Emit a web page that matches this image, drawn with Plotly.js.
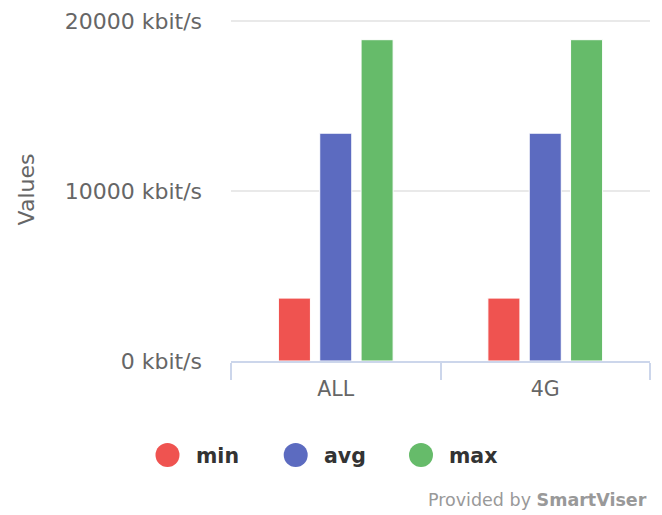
<!DOCTYPE html>
<html>
<head>
<meta charset="utf-8">
<script src="https://cdn.plot.ly/plotly-3.0.1.min.js"></script>
<style>html,body{margin:0;padding:0;background:#fff;}#chart{width:662px;height:515px;}</style>
</head>
<body>
<div id="chart"></div>
<script>
var categories = ["ALL", "4G"];
var seriesNames = ["min", "avg", "max"];
var minValues = [3700, 3700];
var avgValues = [13400, 13400];
var maxValues = [18900, 18900];
var yTickValues = [0, 10000, 20000];
var unitSuffix = " kbit/s";
var colors = ["#EF5350", "#5C6BC0", "#66BB6A"];

var seriesValues = [minValues, avgValues, maxValues];
var FONT = "DejaVu Sans, Verdana, Arial, sans-serif";

var traces = seriesNames.map(function (name, i) {
  return {
    type: "bar",
    name: name,
    x: categories,
    y: seriesValues[i],
    marker: { color: colors[i], line: { color: "#ffffff", width: 1 } },
    showlegend: false,
    hoverinfo: "x+y+name"
  };
});

var W = 662, H = 515;
var margin = { l: 231, r: 12, t: 18, b: 154 };
var plotW = W - margin.l - margin.r, plotH = H - margin.t - margin.b;
// leave a few px above the top gridline so it is not clipped
var yMax = yTickValues[yTickValues.length - 1];
var yTop = yMax * plotH / (plotH - 3);
function px2paperX(px) { return (px - margin.l) / plotW; }
function px2paperY(py) { return (H - margin.b - py) / plotH; }
var legendCenters = [167.5, 295.7, 421];
var legendY = 455;

var shapes = [], annotations = [];
seriesNames.forEach(function (name, i) {
  shapes.push({
    type: "circle", xref: "paper", yref: "paper",
    xsizemode: "pixel", ysizemode: "pixel",
    xanchor: px2paperX(legendCenters[i]), yanchor: px2paperY(legendY),
    x0: -12, x1: 12, y0: -12, y1: 12,
    fillcolor: colors[i], line: { width: 0 }
  });
  annotations.push({
    xref: "paper", yref: "paper",
    x: px2paperX(legendCenters[i] + 26), y: px2paperY(legendY + 1),
    xanchor: "left", yanchor: "middle", showarrow: false,
    text: "<b>" + name + "</b>",
    font: { family: FONT, size: 20.5, color: "#333333" }
  });
});
annotations.push({
  xref: "paper", yref: "paper",
  x: px2paperX(649), y: px2paperY(500),
  xanchor: "right", yanchor: "middle", showarrow: false,
  text: "Provided by <b>SmartViser</b>",
  font: { family: FONT, size: 17.5, color: "#999999" }
});

var layout = {
  width: W, height: H,
  margin: margin,
  paper_bgcolor: "#ffffff", plot_bgcolor: "#ffffff",
  font: { family: FONT, color: "#666666" },
  barmode: "group",
  bargap: 0.408,
  bargroupgap: 0.225,
  showlegend: false,
  xaxis: {
    type: "category",
    range: [-0.5, 1.5],
    tickson: "boundaries",
    ticks: "outside", ticklen: 17, tickwidth: 2, tickcolor: "#ccd6eb",
    showline: true, linecolor: "#ccd6eb", linewidth: 2,
    showgrid: false, zeroline: false,
    ticklabelstandoff: 8,
    tickfont: { family: FONT, size: 20.5, color: "#666666" },
    fixedrange: true
  },
  yaxis: {
    range: [0, yTop],
    tickvals: yTickValues,
    ticktext: yTickValues.map(function (v) { return v + unitSuffix; }),
    ticks: "", showline: false, zeroline: false,
    showgrid: true, gridcolor: "#e9e9e9", gridwidth: 2,
    ticklabelstandoff: 28,
    tickfont: { family: FONT, size: 22, color: "#666666" },
    title: { text: "Values", font: { family: FONT, size: 22, color: "#666666" }, standoff: 24 },
    fixedrange: true
  },
  shapes: shapes,
  annotations: annotations
};

Plotly.newPlot("chart", traces, layout, { displayModeBar: false, staticPlot: true });
</script>
</body>
</html>
